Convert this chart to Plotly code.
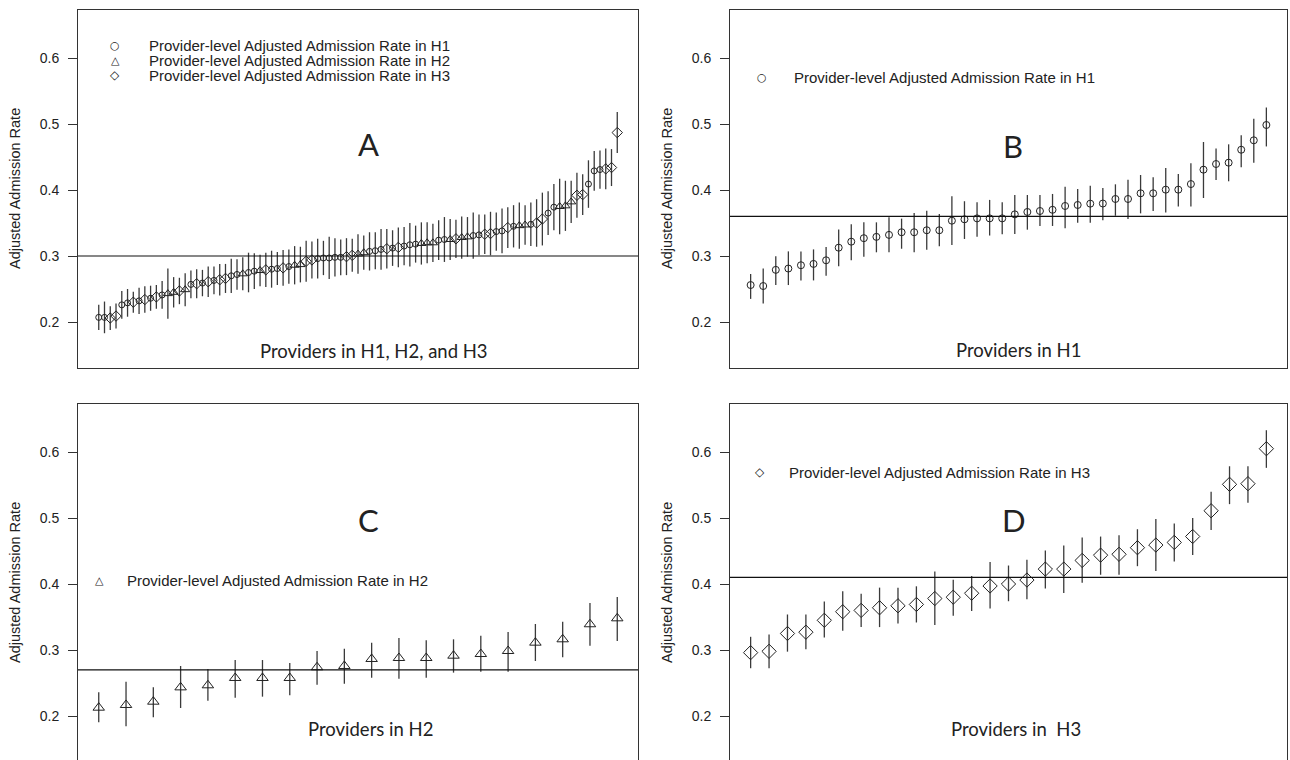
import plotly.graph_objects as go

# ---------------- data ----------------
# Panel A: combined providers (group 1=H1, 2=H2, 3=H3)
a_rate = [0.207, 0.207, 0.206, 0.209, 0.226, 0.229, 0.230, 0.232, 0.234, 0.236,
          0.238, 0.241, 0.243, 0.245, 0.247, 0.249, 0.257, 0.258, 0.259, 0.261,
          0.263, 0.264, 0.266, 0.270, 0.272, 0.273, 0.275, 0.277, 0.278, 0.279,
          0.280, 0.281, 0.282, 0.284, 0.286, 0.287, 0.292, 0.294, 0.296, 0.297,
          0.297, 0.298, 0.298, 0.299, 0.301, 0.303, 0.305, 0.307, 0.308, 0.310,
          0.311, 0.312, 0.313, 0.315, 0.317, 0.318, 0.319, 0.320, 0.320, 0.324,
          0.325, 0.325, 0.326, 0.328, 0.329, 0.331, 0.332, 0.333, 0.334, 0.337,
          0.338, 0.343, 0.345, 0.346, 0.347, 0.348, 0.350, 0.356, 0.365, 0.374,
          0.375, 0.376, 0.382, 0.392, 0.393, 0.409, 0.429, 0.431, 0.432, 0.434,
          0.487]
a_group = [1, 1, 3, 3, 1, 1, 3, 1, 3, 1,
           3, 1, 2, 2, 3, 2, 1, 3, 1, 3,
           1, 3, 3, 1, 1, 2, 1, 1, 2, 3,
           1, 1, 3, 1, 2, 2, 3, 3, 1, 1,
           1, 1, 1, 3, 3, 2, 2, 1, 1, 1,
           3, 1, 3, 1, 1, 1, 2, 2, 2, 1,
           1, 2, 3, 2, 2, 1, 1, 3, 3, 1,
           1, 3, 1, 2, 2, 1, 3, 3, 1, 1,
           2, 2, 2, 3, 3, 1, 1, 1, 3, 3,
           3]
a_half = [0.019, 0.024, 0.018, 0.019, 0.021, 0.021, 0.016, 0.020, 0.020, 0.019,
          0.018, 0.021, 0.038, 0.023, 0.020, 0.025, 0.021, 0.022, 0.020, 0.023,
          0.021, 0.024, 0.022, 0.026, 0.023, 0.025, 0.030, 0.027, 0.024, 0.026,
          0.028, 0.025, 0.027, 0.026, 0.029, 0.027, 0.031, 0.028, 0.030, 0.026,
          0.032, 0.029, 0.027, 0.028, 0.025, 0.030, 0.026, 0.029, 0.028, 0.031,
          0.030, 0.027, 0.030, 0.029, 0.033, 0.028, 0.032, 0.031, 0.029, 0.030,
          0.034, 0.031, 0.029, 0.032, 0.030, 0.035, 0.031, 0.030, 0.033, 0.029,
          0.034, 0.031, 0.032, 0.035, 0.030, 0.033, 0.036, 0.040, 0.033, 0.035,
          0.042, 0.038, 0.032, 0.034, 0.031, 0.036, 0.030, 0.029, 0.031, 0.028,
          0.031]

# Panel B: H1 providers
b_rate = [0.256, 0.2545, 0.279, 0.281, 0.286, 0.288, 0.2935, 0.3126, 0.3217, 0.327,
          0.329, 0.332, 0.336, 0.336, 0.339, 0.339, 0.3535, 0.3556, 0.357, 0.357,
          0.357, 0.3631, 0.3667, 0.3682, 0.370, 0.3758, 0.3773, 0.3793, 0.3795, 0.3864,
          0.3864, 0.395, 0.395, 0.4005, 0.4005, 0.409, 0.4308, 0.4394, 0.4414, 0.461,
          0.4753, 0.4985]
b_high = [0.2727, 0.281, 0.2995, 0.307, 0.307, 0.310, 0.3136, 0.340, 0.348, 0.351,
          0.351, 0.3586, 0.3566, 0.365, 0.3687, 0.3636, 0.3904, 0.383, 0.3813, 0.385,
          0.3813, 0.3924, 0.3924, 0.3924, 0.394, 0.405, 0.4015, 0.4065, 0.403, 0.4086,
          0.4156, 0.4227, 0.4192, 0.4333, 0.4242, 0.4404, 0.4727, 0.463, 0.4692, 0.483,
          0.508, 0.525]
b_low = [0.235, 0.228, 0.256, 0.256, 0.263, 0.263, 0.270, 0.2843, 0.2934, 0.299,
         0.3056, 0.3056, 0.311, 0.3056, 0.3096, 0.3147, 0.3167, 0.3258, 0.329, 0.331,
         0.3328, 0.3333, 0.3399, 0.3455, 0.3455, 0.342, 0.3505, 0.3505, 0.354, 0.361,
         0.356, 0.3646, 0.368, 0.366, 0.375, 0.375, 0.3879, 0.415, 0.4132, 0.4344,
         0.4414, 0.466]

# Panel C: H2 providers
c_rate = [0.2126, 0.2167, 0.2217, 0.2434, 0.2465, 0.2576, 0.2576, 0.2576, 0.2738, 0.2758,
          0.2864, 0.2879, 0.2879, 0.2914, 0.2939, 0.2985, 0.3111, 0.3162, 0.339, 0.348]
c_high = [0.2359, 0.252, 0.2434, 0.2758, 0.2712, 0.2848, 0.2848, 0.2803, 0.2985, 0.302,
          0.3111, 0.3182, 0.3147, 0.3162, 0.3217, 0.3273, 0.3394, 0.3429, 0.3712, 0.3803]
c_low = [0.1905, 0.1843, 0.198, 0.2121, 0.2232, 0.2278, 0.2293, 0.2313, 0.2474, 0.249,
         0.258, 0.2565, 0.258, 0.2657, 0.2672, 0.2672, 0.2833, 0.289, 0.3065, 0.3136]

# Panel D: H3 providers
d_rate = [0.296, 0.298, 0.325, 0.327, 0.345, 0.358, 0.360, 0.364, 0.367, 0.369,
          0.378, 0.380, 0.386, 0.397, 0.400, 0.406, 0.4226, 0.4226, 0.4357, 0.4437,
          0.445, 0.455, 0.459, 0.463, 0.472, 0.511, 0.551, 0.552, 0.605]
d_high = [0.320, 0.3236, 0.3538, 0.3538, 0.3734, 0.389, 0.3854, 0.3945, 0.3945, 0.3965,
          0.419, 0.4065, 0.412, 0.4332, 0.428, 0.4367, 0.4508, 0.4583, 0.4704, 0.4719,
          0.4739, 0.483, 0.4985, 0.4915, 0.500, 0.5397, 0.5784, 0.5784, 0.633]
d_low = [0.2724, 0.2724, 0.2975, 0.301, 0.319, 0.329, 0.3347, 0.3347, 0.340, 0.3417,
         0.338, 0.352, 0.359, 0.3628, 0.3739, 0.3769, 0.393, 0.3864, 0.402, 0.414,
         0.414, 0.427, 0.4196, 0.434, 0.444, 0.482, 0.521, 0.523, 0.576]

mean_a, mean_b, mean_c, mean_d = 0.30, 0.36, 0.27, 0.41

legend_label = "Provider-level Adjusted Admission Rate in H{}"
panel_letters = ["A", "B", "C", "D"]
x_titles = ["Providers in H1, H2, and H3", "Providers in H1", "Providers in H2", "Providers in  H3"]
y_title = "Adjusted Admission Rate"
y_ticks = [0.2, 0.3, 0.4, 0.5, 0.6]

# ---------------- styling ----------------
W, H = 1290, 760
INK = "#222222"
BAR = "#3a3a3a"
SYMS = {1: "circle-open", 2: "triangle-up-open", 3: "diamond-open"}
A_SIZE = {1: 6, 2: 8, 3: 8}
GLYPH = {1: "○", 2: "△", 3: "◇"}
SANS = "Liberation Sans, Arial, sans-serif"
CAL = "Lato, Open Sans, sans-serif"

def px_x(p):
    return p / W

def px_y(p):
    return 1 - p / H

fig = go.Figure()

def add_series(xref, yref, xs, ys, lo, hi, sym, size):
    fig.add_trace(go.Scatter(
        x=xs, y=ys, mode="markers", xaxis=xref, yaxis=yref, showlegend=False,
        marker=dict(symbol=sym, size=size, color=INK, line=dict(width=1, color=INK)),
        error_y=dict(type="data", symmetric=False,
                     array=[h - v for h, v in zip(hi, ys)],
                     arrayminus=[v - l for v, l in zip(ys, lo)],
                     color=BAR, thickness=1.3, width=0),
        hoverinfo="skip"))

# Panel A
for g in (1, 2, 3):
    idx = [i for i, gg in enumerate(a_group) if gg == g]
    xs = [i + 1 for i in idx]
    ys = [a_rate[i] for i in idx]
    hs = [a_half[i] for i in idx]
    add_series("x", "y", xs, ys, [v - h for v, h in zip(ys, hs)],
               [v + h for v, h in zip(ys, hs)], SYMS[g], A_SIZE[g])

add_series("x2", "y2", list(range(1, len(b_rate) + 1)), b_rate, b_low, b_high, SYMS[1], 7)
add_series("x3", "y3", list(range(1, len(c_rate) + 1)), c_rate, c_low, c_high, SYMS[2], 10)
add_series("x4", "y4", list(range(1, len(d_rate) + 1)), d_rate, d_low, d_high, SYMS[3], 11)

# ---------------- axes ----------------
colL = (78, 638)
colR = (730, 1287)
rowT = (10, 368)
rowB = (404, 760)

def xr(n):
    return [1 - 0.04 * (n - 1), n + 0.04 * (n - 1)]

y_top = 0.6 + 48 / 660.0
yr_top = [0.2 - 46 / 660.0, y_top]
yr_bot = [0.2 - 44 / 660.0, y_top]

panels = [
    ("xaxis", "yaxis", colL, rowT, len(a_rate), yr_top, True),
    ("xaxis2", "yaxis2", colR, rowT, len(b_rate), yr_top, True),
    ("xaxis3", "yaxis3", colL, rowB, len(c_rate), yr_bot, False),
    ("xaxis4", "yaxis4", colR, rowB, len(d_rate), yr_bot, False),
]

layout = dict(width=W, height=H, margin=dict(l=0, r=0, t=0, b=0),
              paper_bgcolor="white", plot_bgcolor="white", showlegend=False)

for k, (xa, ya, col, row, n, yr, full) in enumerate(panels):
    suffix = "" if k == 0 else str(k + 1)
    layout[xa] = dict(domain=[px_x(col[0]), px_x(col[1])], range=xr(n),
                      showgrid=False, zeroline=False, showticklabels=False, ticks="",
                      showline=True, linecolor="#333", linewidth=1,
                      mirror=True if full else False,
                      side="bottom" if full else "top",
                      anchor="y" + suffix, fixedrange=True)
    layout[ya] = dict(domain=[px_y(row[1]), px_y(row[0])], range=yr,
                      showgrid=False, zeroline=False,
                      tickvals=y_ticks, ticktext=["%.1f" % t for t in y_ticks],
                      ticks="outside", ticklen=9, tickwidth=1, tickcolor="#333",
                      ticklabelstandoff=6,
                      tickfont=dict(family=SANS, size=14, color=INK),
                      showline=True, linecolor="#333", linewidth=1, mirror=True,
                      anchor="x" + suffix, fixedrange=True)

fig.update_layout(**layout)

# mean reference lines
for k, m in enumerate([mean_a, mean_b, mean_c, mean_d]):
    suffix = "" if k == 0 else str(k + 1)
    fig.add_shape(type="line", xref="x%s domain" % suffix, yref="y" + suffix,
                  x0=0, x1=1, y0=m, y1=m, line=dict(color="#111", width=1.2))

# ---------------- texts ----------------
ann = []

def text(xp, yp, t, font, xanchor="center", angle=0):
    ann.append(dict(x=px_x(xp), y=px_y(yp), xref="paper", yref="paper", text=t,
                    textangle=angle, showarrow=False, xanchor=xanchor, yanchor="middle",
                    font=font))

# y-axis titles
for xp, yc in [(15, 189), (667, 189), (15, 583), (667, 583)]:
    text(xp, yc, y_title, dict(family=SANS, size=14.5, color=INK), angle=-90)
# panel letters
for letter, (xp, yp) in zip(panel_letters, [(369, 144), (1013, 146), (369, 520), (1014, 520)]):
    text(xp, yp, letter, dict(family=CAL, size=31, color=INK))
# bottom titles
for t, (xp, yp) in zip(x_titles, [(374, 351), (1018, 350), (370, 729), (1016, 729)]):
    text(xp, yp, t, dict(family=CAL, size=18.5, color=INK))
# legends
leg_rows = [
    (115, 147, 45, 1), (115, 147, 60, 2), (115, 147, 75, 3),
    (762, 792, 77, 1),
    (99, 125, 580, 2),
    (760, 787, 472, 3),
]
for gx, tx, yp, g in leg_rows:
    text(gx, yp, GLYPH[g], dict(family="DejaVu Sans", size=11 if g != 3 else 12, color=INK))
    text(tx, yp, legend_label.format(g), dict(family=SANS, size=15, color=INK), xanchor="left")

fig.update_layout(annotations=ann)
fig.write_html("out.html",
               config={"displayModeBar": False, "staticPlot": True},
               post_script="document.body.style.margin='0px';"
                           "document.body.style.overflow='hidden';")
